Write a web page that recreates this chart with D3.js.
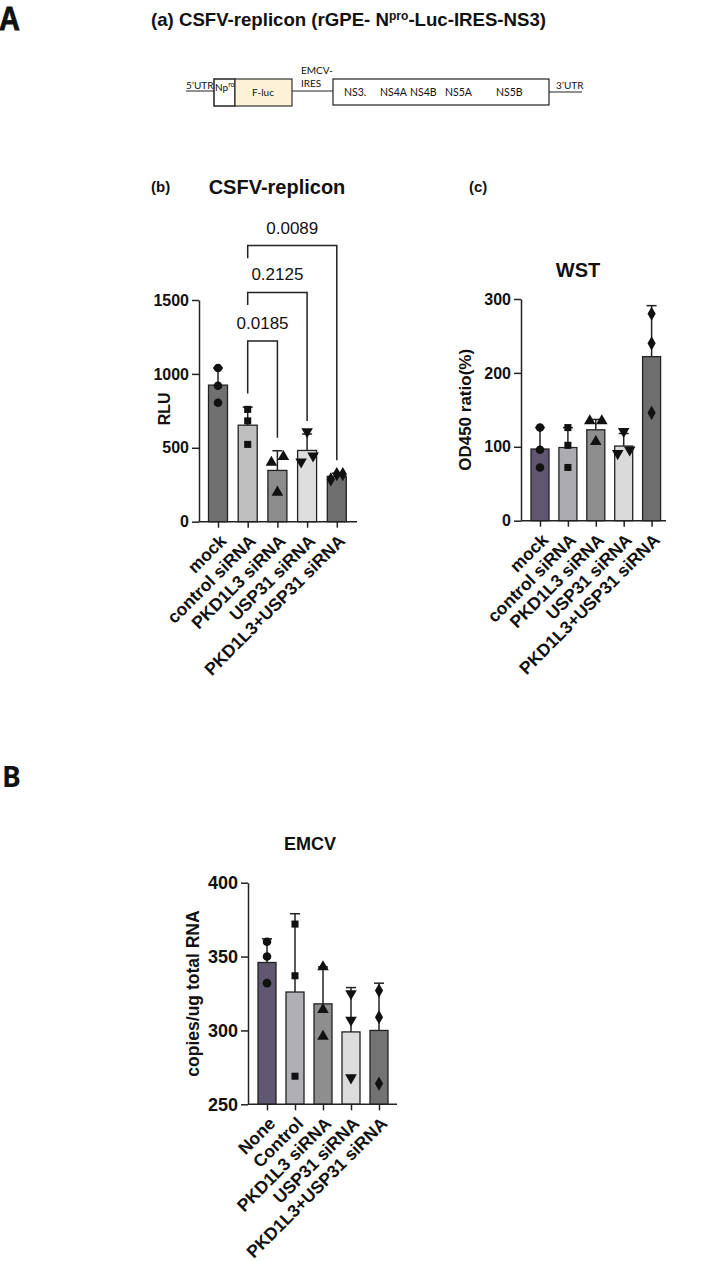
<!DOCTYPE html>
<html>
<head>
<meta charset="utf-8">
<script src="https://d3js.org/d3.v7.min.js"></script>
<style>
  body { margin: 0; background: #fff; }
  text { font-family: "Liberation Sans", Arial, sans-serif; fill: #111; }
</style>
</head>
<body>
<div id="fig"></div>
<script>
// ---- data ----
var csfvCats = ["mock", "control siRNA", "PKD1L3 siRNA", "USP31 siRNA", "PKD1L3+USP31 siRNA"];
var csfvMean = [924, 653, 347, 482, 307];
var csfvErrTop = [1040, 775, 480, 593, 328];
var csfvPoints = [[1040, 920, 805], [760, 682, 523], [440, 401, 199], [610, 405, 446], [286, 322, 322]];
var csfvTicks = [0, 500, 1000, 1500];
var csfvPairs = [[1, 2], [1, 3], [1, 4]];
var csfvP = ["0.0185", "0.2125", "0.0089"];

var wstCats = ["mock", "control siRNA", "PKD1L3 siRNA", "USP31 siRNA", "PKD1L3+USP31 siRNA"];
var wstMean = [97, 99, 123, 101, 222];
var wstErrTop = [126, 126, 137, 118, 291];
var wstPoints = [[126, 96, 72], [126, 102, 72], [135, 135, 107], [121, 91, 96], [280, 240, 146]];
var wstTicks = [0, 100, 200, 300];

var emcvCats = ["None", "Control", "PKD1L3 siRNA", "USP31 siRNA", "PKD1L3+USP31 siRNA"];
var emcvMean = [346, 326, 318, 299, 300];
var emcvErrTop = [362, 379, 343, 329, 332];
var emcvPoints = [[360, 350, 332], [372, 337, 269], [343, 314, 296], [325, 307, 268], [327, 309, 264]];
var emcvTicks = [250, 300, 350, 400];

var genomeParts = ["NS3.", "NS4A", "NS4B", "NS5A", "NS5B"];

// ---- drawing ----
var svg = d3.select("#fig").append("svg").attr("width", 727).attr("height", 1261);

var symTypes = [d3.symbolCircle, d3.symbolSquare, d3.symbolTriangle, "down", d3.symbolDiamond];

function drawChart(c) {
  var g = svg.append("g");
  var y = d3.scaleLinear().domain(c.domain).range([c.yBottom, c.yTop]);
  var x = d3.scalePoint().domain(c.cats)
    .range([c.firstX, c.firstX + c.step * (c.cats.length - 1)]);

  // bars
  g.selectAll("rect.bar").data(c.mean).join("rect")
    .attr("x", function(d, i) { return x(c.cats[i]) - c.barW / 2; })
    .attr("y", function(d) { return y(d); })
    .attr("width", c.barW)
    .attr("height", function(d) { return y(c.domain[0]) - y(d); })
    .attr("fill", function(d, i) { return c.colors[i]; })
    .attr("stroke", "#222").attr("stroke-width", 1.3);

  // error bars (upper only)
  c.mean.forEach(function(m, i) {
    var cx = x(c.cats[i]);
    g.append("line").attr("x1", cx).attr("x2", cx).attr("y1", y(m)).attr("y2", y(c.errTop[i]))
      .attr("stroke", "#222").attr("stroke-width", 1.5);
    g.append("line").attr("x1", cx - 5).attr("x2", cx + 5).attr("y1", y(c.errTop[i])).attr("y2", y(c.errTop[i]))
      .attr("stroke", "#222").attr("stroke-width", 1.5);
  });

  // points, spread sideways when they overlap (lower value to the left)
  c.points.forEach(function(pts, i) {
    var cx = x(c.cats[i]);
    var py = pts.map(function(v) { return y(v); });
    var off = pts.map(function() { return 0; });
    var idx = d3.range(pts.length).sort(function(a, b) { return py[b] - py[a]; });
    var k = 0;
    while (k < idx.length) {
      var grp = [idx[k]];
      while (k + grp.length < idx.length && py[grp[grp.length - 1]] - py[idx[k + grp.length]] < 7) grp.push(idx[k + grp.length]);
      if (grp.length == 2) { off[grp[0]] = -6; off[grp[1]] = 6; }
      if (grp.length == 3) { off[grp[0]] = -6; off[grp[1]] = 0; off[grp[2]] = 6; }
      k += grp.length;
    }
    var t = symTypes[i];
    var sym = d3.symbol().type(t == "down" ? d3.symbolTriangle : t).size(t == d3.symbolSquare ? 50 : 58);
    pts.forEach(function(v, j) {
      g.append("path").attr("d", sym())
        .attr("transform", "translate(" + (cx + off[j]) + "," + py[j] + ")" + (t == "down" ? " rotate(180)" : ""))
        .attr("fill", "#111");
    });
  });

  // y axis
  var ya = g.append("g").attr("transform", "translate(" + c.axisX + ",0)")
    .call(d3.axisLeft(y).tickValues(c.ticks).tickFormat(d3.format("d"))
      .tickSize(7).tickSizeOuter(0).tickPadding(3));
  ya.selectAll("path, line").attr("stroke", "#222").attr("stroke-width", 1.5);
  ya.selectAll("text").style("font-size", c.tickFont + "px").style("font-weight", "bold")
    .style("font-family", "Liberation Sans, Arial").attr("fill", "#111");

  // x axis
  g.append("line").attr("x1", c.axisX).attr("x2", c.axisEnd).attr("y1", c.yBottom).attr("y2", c.yBottom)
    .attr("stroke", "#222").attr("stroke-width", 1.5);
  var xa = g.append("g").attr("transform", "translate(0," + c.yBottom + ")")
    .call(d3.axisBottom(x).tickSize(6).tickSizeOuter(0));
  xa.select(".domain").remove();
  xa.selectAll("line").attr("stroke", "#222").attr("stroke-width", 1.5);
  xa.selectAll("text").remove();
  c.cats.forEach(function(name) {
    g.append("text")
      .attr("transform", "translate(" + (x(name) + 5) + "," + (c.yBottom + 16) + ") rotate(-45)")
      .attr("text-anchor", "end").attr("dy", "0.35em")
      .style("font-size", c.labelFont + "px").style("font-weight", "bold")
      .text(name);
  });

  // y label
  g.append("text")
    .attr("transform", "translate(" + c.ylabelX + "," + ((c.yTop + c.yBottom) / 2 + c.ylabelDy) + ") rotate(-90)")
    .attr("text-anchor", "middle").attr("dy", "0.35em")
    .style("font-size", c.ylabelFont + "px").style("font-weight", "bold")
    .text(c.ylabel);

  // title
  g.append("text").attr("x", c.titleX).attr("y", c.titleY).attr("text-anchor", "middle")
    .style("font-size", c.titleFont + "px").style("font-weight", "bold").text(c.title);

  return { x: x, y: y, g: g };
}

// ---- panel A(a): replicon map ----
svg.append("text").attr("transform", "translate(-1,30) scale(0.85,1)")
  .style("font-size", "34px").style("font-weight", "bold")
  .attr("stroke", "#111").attr("stroke-width", 0.9).text("A");

var ttl = svg.append("text").attr("x", 151).attr("y", 26)
  .style("font-size", "18.5px").style("font-weight", "bold")
  .attr("textLength", 395).attr("lengthAdjust", "spacingAndGlyphs");
ttl.append("tspan").text("(a) CSFV-replicon (rGPE- N");
ttl.append("tspan").attr("dy", -6).style("font-size", "12px").text("pro");
ttl.append("tspan").attr("dy", 6).text("-Luc-IRES-NS3)");

var mapG = svg.append("g");
function mapText(x, y, s, size) {
  return mapG.append("text").attr("x", x).attr("y", y)
    .style("font-size", (size || 10) + "px").style("font-family", "Lato, Open Sans, sans-serif").text(s);
}
mapG.append("line").attr("x1", 186).attr("x2", 214).attr("y1", 91).attr("y2", 91).attr("stroke", "#222").attr("stroke-width", 1);
mapText(186, 89, "5\u2019UTR");
mapG.append("rect").attr("x", 214).attr("y", 79).attr("width", 21).attr("height", 27)
  .attr("fill", "#fff").attr("stroke", "#222").attr("stroke-width", 1.5);
var np = mapText(215, 91, "");
np.append("tspan").text("Np");
np.append("tspan").attr("dy", -4).style("font-size", "7px").text("ro");
mapG.append("rect").attr("x", 235).attr("y", 79).attr("width", 57).attr("height", 27)
  .attr("fill", "#fdf2d8").attr("stroke", "#333").attr("stroke-width", 1.2);
mapText(263, 96, "F-luc").attr("text-anchor", "middle");
mapG.append("line").attr("x1", 292).attr("x2", 333).attr("y1", 91).attr("y2", 91).attr("stroke", "#222").attr("stroke-width", 1);
mapText(301, 74, "EMCV-");
mapText(301, 87, "IRES");
mapG.append("rect").attr("x", 333).attr("y", 79).attr("width", 216).attr("height", 26)
  .attr("fill", "#fff").attr("stroke", "#222").attr("stroke-width", 1.2);
var partX = [344, 380, 410, 445, 496];
genomeParts.forEach(function(p, i) { mapText(partX[i], 96, p, 10.5); });
mapG.append("line").attr("x1", 549).attr("x2", 582).attr("y1", 92).attr("y2", 92).attr("stroke", "#222").attr("stroke-width", 1);
mapText(556, 89, "3\u2019UTR");

// ---- panel A(b): CSFV replicon ----
var csfv = drawChart({
  cats: csfvCats, mean: csfvMean, errTop: csfvErrTop, points: csfvPoints, ticks: csfvTicks,
  domain: [0, 1500], yBottom: 521.7, yTop: 300, firstX: 218, step: 29.7, barW: 19,
  axisX: 199, axisEnd: 357,
  colors: ["#707070", "#bebebe", "#8c8c8c", "#dedede", "#6e6e6e"],
  tickFont: 16, labelFont: 17.5, ylabel: "RLU", ylabelX: 164, ylabelDy: -2, ylabelFont: 16,
  title: "CSFV-replicon", titleX: 277, titleY: 194, titleFont: 20
});
svg.append("text").attr("x", 151).attr("y", 192).style("font-size", "15px").style("font-weight", "bold").text("(b)");

// significance brackets
var brLevel = [1222, 1551, 1868];
csfvPairs.forEach(function(pr, i) {
  var x1 = csfv.x(csfvCats[pr[0]]), x2 = csfv.x(csfvCats[pr[1]]);
  var top = brLevel[i];
  var legL = i == 0 ? csfvErrTop[pr[0]] + 92 : top - 85;
  var legR = csfvErrTop[pr[1]] + 88;
  var y = csfv.y;
  csfv.g.append("path")
    .attr("d", "M" + x1 + "," + y(legL) + "V" + y(top) + "H" + x2 + "V" + y(legR))
    .attr("fill", "none").attr("stroke", "#222").attr("stroke-width", 1.5);
  csfv.g.append("text").attr("x", (x1 + x2) / 2).attr("y", y(top) - 12).attr("text-anchor", "middle")
    .style("font-size", "17px").text(csfvP[i]);
});

// ---- panel A(c): WST ----
drawChart({
  cats: wstCats, mean: wstMean, errTop: wstErrTop, points: wstPoints, ticks: wstTicks,
  domain: [0, 300], yBottom: 520.7, yTop: 299, firstX: 540, step: 27.9, barW: 18,
  axisX: 521, axisEnd: 666,
  colors: ["#5f5870", "#ababb1", "#8e8e8e", "#dadada", "#6e6e6e"],
  tickFont: 16, labelFont: 17.5, ylabel: "OD450 ratio(%)", ylabelX: 465, ylabelDy: 0, ylabelFont: 17,
  title: "WST", titleX: 578, titleY: 277, titleFont: 20
});
svg.append("text").attr("x", 469).attr("y", 192).style("font-size", "15px").style("font-weight", "bold").text("(c)");

// ---- panel B: EMCV ----
svg.append("text").attr("x", 2).attr("y", 787)
  .style("font-family", "Open Sans, Liberation Sans").style("font-size", "28px").style("font-weight", "bold").text("B");
drawChart({
  cats: emcvCats, mean: emcvMean, errTop: emcvErrTop, points: emcvPoints, ticks: emcvTicks,
  domain: [250, 400], yBottom: 1104.3, yTop: 882.7, firstX: 267, step: 28, barW: 18,
  axisX: 248, axisEnd: 397,
  colors: ["#5f5870", "#b0afb5", "#8e8e8e", "#dcdcdc", "#737373"],
  tickFont: 18, labelFont: 17.5, ylabel: "copies/ug total RNA", ylabelX: 193, ylabelDy: 0, ylabelFont: 17.5,
  title: "EMCV", titleX: 310, titleY: 850, titleFont: 18
});
</script>
</body>
</html>
